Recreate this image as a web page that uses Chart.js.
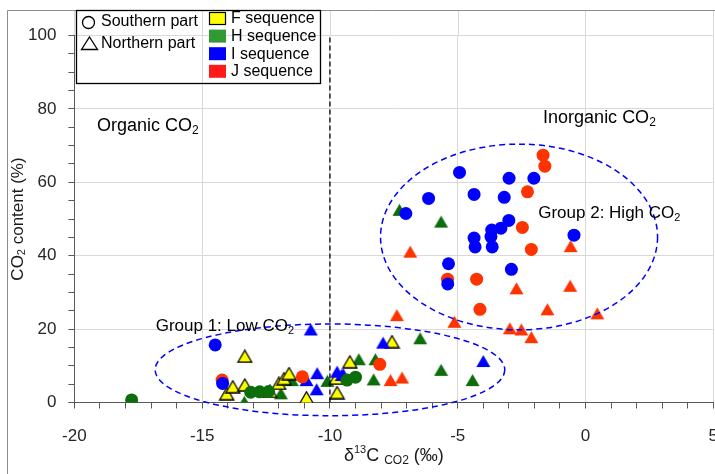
<!DOCTYPE html>
<html>
<head>
<meta charset="utf-8">
<script src="https://cdn.jsdelivr.net/npm/chart.js@4.4.1/dist/chart.umd.min.js"></script>
<style>
  html, body { margin: 0; padding: 0; background: #fff; overflow: hidden; }
  #wrap { width: 736px; height: 474px; }
</style>
</head>
<body>
<div id="wrap"><canvas id="chart" width="736" height="474"></canvas></div>
<script>
// delta13C of CO2 (x, permil) vs CO2 content (y, %)
// Southern part (circles)
const hSouthX = [-17.76, -13.1, -12.75, -12.4, -9.33, -9.0];
const hSouthY = [0.7, 2.8, 2.9, 3.0, 6.1, 6.9];
const iSouthX = [-14.49, -14.2, -7.03, -6.14, -4.93, -4.36, -3.18, -2.99, -2.02, -3.0, -3.31, -3.67, -3.7, -3.65, -4.36, -4.32, -5.36, -5.39, -2.9, -0.45];
const iSouthY = [15.7, 5.2, 51.5, 55.6, 62.7, 56.7, 55.9, 61.1, 61.1, 49.6, 47.5, 47.0, 45.2, 42.4, 44.8, 42.4, 37.8, 32.3, 36.3, 45.6];
const jSouthX = [-14.22, -11.08, -8.05, -4.13, -1.66, -1.59, -2.27, -2.47, -2.12, -5.40, -4.26];
const jSouthY = [6.1, 7.0, 10.4, 25.4, 67.4, 64.4, 57.4, 47.7, 41.7, 33.6, 33.6];
// Northern part (triangles)
const hNorthX = [-7.28, -5.65, -6.47, -5.65, -4.42, -8.87, -8.22, -8.29, -11.49, -11.92, -10.1, -13.35];
const hNorthY = [52.5, 49.3, 17.5, 8.9, 6.1, 11.8, 11.8, 6.3, 6.1, 2.5, 5.9, 0.2];
const iNorthX = [-10.75, -7.92, -4.0, -9.54, -10.5, -10.92, -10.52, -9.72, -9.48];
const iNorthY = [19.9, 16.3, 11.3, 7.5, 8.0, 6.1, 3.6, 8.4, 7.7];
const jNorthX = [-6.86, -0.58, -2.7, -0.6, -1.49, 0.46, -5.13, -2.96, -2.51, -2.12, -7.38, -7.63, -7.18];
const jNorthY = [41.1, 42.6, 31.1, 31.8, 25.4, 24.3, 22.0, 20.2, 19.9, 17.8, 23.8, 6.1, 6.8];
const fNorthX = [-13.33, -14.04, -13.8, -13.33, -12.35, -12.0, -11.8, -11.6, -10.92, -9.72, -9.22, -7.57, -9.76];
const fNorthY = [12.6, 2.4, 4.3, 4.8, 3.0, 5.2, 6.5, 7.9, 1.3, 2.7, 11.1, 16.6, 6.6];

// annotations (data units)
const dividerX = -10;
const group1Ellipse = [-10.0, 8.9, 6.84, 12.5];   // cx, cy, rx, ry
const group2Ellipse = [-2.6, 45.1, 5.42, 25.3];

const COLORS = { F: '#ffff00', H: '#0b6e0b', I: '#0000ff', J: '#ff3300' };
const FONT = "'Liberation Sans', Arial, sans-serif";
const FRAME_TOP = 10.5;

const pts = (xs, ys) => xs.map((x, i) => ({ x, y: ys[i] }));

// triangle marker centred on its bounding box, like the spreadsheet markers
function triangle(fill, stroke) {
  const c = document.createElement('canvas');
  c.width = 17;
  c.height = 14;
  const g = c.getContext('2d');
  g.beginPath();
  g.moveTo(8.5, 1);
  g.lineTo(15.5, 13);
  g.lineTo(1.5, 13);
  g.closePath();
  g.fillStyle = fill;
  g.fill();
  if (stroke) {
    g.lineWidth = 1.3;
    g.strokeStyle = stroke;
    g.stroke();
  }
  return c;
}

const circleSet = (label, xs, ys, color) => ({
  label, data: pts(xs, ys), pointStyle: 'circle', pointRadius: 6.5,
  backgroundColor: color, borderWidth: 0,
});
const triSet = (label, xs, ys, color, stroke) => ({
  label, data: pts(xs, ys), pointStyle: triangle(color, stroke), pointRadius: 7,
  backgroundColor: color, borderWidth: 0,
});

// draws a run of text pieces (for sub/superscripts)
function rich(ctx, parts, x, y, align) {
  let total = 0;
  parts.forEach((p) => {
    ctx.font = `${p.size}px ${FONT}`;
    total += ctx.measureText(p.t).width;
  });
  let cx = align === 'center' ? x - total / 2 : x;
  parts.forEach((p) => {
    ctx.font = `${p.size}px ${FONT}`;
    ctx.fillText(p.t, cx, y + (p.dy || 0));
    cx += ctx.measureText(p.t).width;
  });
}

const overlay = {
  id: 'overlay',
  beforeDraw(chart) {
    const { ctx, chartArea, scales: { x } } = chart;
    ctx.save();
    ctx.fillStyle = '#fff';
    ctx.fillRect(0, 0, chart.width, chart.height);
    // plot area continues above the 100 tick up to the frame
    ctx.strokeStyle = '#d9d9d9';
    ctx.lineWidth = 1;
    x.ticks.filter((t) => t.value % 5 === 0).forEach((t) => {
      const px = Math.round(x.getPixelForValue(t.value)) + 0.5;
      ctx.beginPath();
      ctx.moveTo(px, FRAME_TOP);
      ctx.lineTo(px, chartArea.top);
      ctx.stroke();
    });
    ctx.strokeStyle = '#8c8c8c';
    ctx.beginPath();
    ctx.moveTo(7.5, chart.height);
    ctx.lineTo(7.5, FRAME_TOP);
    ctx.lineTo(chart.width, FRAME_TOP);
    ctx.stroke();
    ctx.restore();
  },
  afterDatasetsDraw(chart) {
    const { ctx, scales: { x, y } } = chart;
    ctx.save();
    // organic / inorganic divider
    ctx.strokeStyle = '#000';
    ctx.lineWidth = 1.3;
    ctx.setLineDash([5, 3]);
    ctx.beginPath();
    ctx.moveTo(x.getPixelForValue(dividerX), y.getPixelForValue(0));
    ctx.lineTo(x.getPixelForValue(dividerX), y.getPixelForValue(100));
    ctx.stroke();
    // group ellipses
    ctx.strokeStyle = '#0000ff';
    ctx.lineWidth = 1.5;
    ctx.setLineDash([6, 4]);
    [group1Ellipse, group2Ellipse].forEach(([cx, cy, rx, ry]) => {
      const px = x.getPixelForValue(cx);
      const py = y.getPixelForValue(cy);
      const prx = x.getPixelForValue(cx + rx) - px;
      const pry = py - y.getPixelForValue(cy + ry);
      ctx.beginPath();
      ctx.ellipse(px, py, prx, pry, 0, 0, Math.PI * 2);
      ctx.stroke();
    });
    ctx.setLineDash([]);
    // labels
    ctx.fillStyle = '#000';
    ctx.textBaseline = 'middle';
    ctx.textAlign = 'left';
    rich(ctx, [{ t: 'Organic CO', size: 18 }, { t: '2', size: 12, dy: 5 }], x.getPixelForValue(-19.12), y.getPixelForValue(75.3));
    rich(ctx, [{ t: 'Inorganic CO', size: 18 }, { t: '2', size: 12, dy: 5 }], x.getPixelForValue(-1.66), y.getPixelForValue(77.5));
    rich(ctx, [{ t: 'Group 1: Low CO', size: 17 }, { t: '2', size: 11, dy: 5 }], x.getPixelForValue(-16.82), y.getPixelForValue(20.8));
    rich(ctx, [{ t: 'Group 2: High CO', size: 17 }, { t: '2', size: 11, dy: 5 }], x.getPixelForValue(-1.85), y.getPixelForValue(51.6));
    ctx.restore();
  },
  afterDraw(chart) {
    const { ctx, chartArea } = chart;
    ctx.save();
    ctx.fillStyle = '#1a1a1a';
    ctx.textBaseline = 'middle';
    // axis titles
    const midX = (chartArea.left + chartArea.right) / 2;
    rich(ctx, [
      { t: 'δ', size: 18 }, { t: '13', size: 11, dy: -6 }, { t: 'C ', size: 18 },
      { t: 'CO2', size: 12, dy: 5 }, { t: ' (‰)', size: 18 },
    ], midX, 456, 'center');
    ctx.translate(18, (chartArea.top + chartArea.bottom) / 2);
    ctx.rotate(-Math.PI / 2);
    rich(ctx, [
      { t: 'CO', size: 17 }, { t: '2', size: 11, dy: 4 }, { t: ' content (%)', size: 17 },
    ], 0, 0, 'center');
    ctx.restore();

    // legend
    ctx.save();
    ctx.strokeStyle = '#000';
    ctx.lineWidth = 1.3;
    ctx.strokeRect(76.5, 10.5, 244, 73);
    ctx.beginPath();
    ctx.arc(88.5, 22.5, 6, 0, Math.PI * 2);
    ctx.stroke();
    ctx.beginPath();
    ctx.moveTo(89.5, 37);
    ctx.lineTo(97.5, 49.5);
    ctx.lineTo(81.5, 49.5);
    ctx.closePath();
    ctx.stroke();
    ctx.fillStyle = '#000';
    ctx.textBaseline = 'middle';
    ctx.font = `16px ${FONT}`;
    ctx.fillText('Southern part', 101, 22);
    ctx.fillText('Northern part', 101, 44);
    const seq = [['F', COLORS.F], ['H', '#339933'], ['I', COLORS.I], ['J', '#ff1a1a']];
    seq.forEach(([name, color], i) => {
      const top = 12 + i * 17.6;
      ctx.fillStyle = color;
      ctx.fillRect(209, top, 17, 13);
      if (name === 'F') {
        ctx.lineWidth = 1.2;
        ctx.strokeRect(209.5, top + 0.5, 16, 12);
      }
      ctx.fillStyle = '#000';
      ctx.fillText(`${name} sequence`, 231, top + 7);
    });
    ctx.restore();
  },
};

const majorGrid = (step) => (c) => (c.tick && c.tick.value % step === 0 ? '#d9d9d9' : 'rgba(0,0,0,0)');

// eslint-disable-next-line no-undef
new Chart(document.getElementById('chart'), {
  type: 'scatter',
  data: {
    datasets: [
      circleSet('H south', hSouthX, hSouthY, COLORS.H),
      circleSet('I south', iSouthX, iSouthY, COLORS.I),
      circleSet('J south', jSouthX, jSouthY, COLORS.J),
      triSet('J north', jNorthX, jNorthY, COLORS.J),
      triSet('I north', iNorthX, iNorthY, COLORS.I),
      triSet('F north', fNorthX, fNorthY, COLORS.F, '#000'),
      triSet('H north', hNorthX, hNorthY, COLORS.H),
    ],
  },
  plugins: [overlay],
  options: {
    responsive: false,
    animation: false,
    layout: { padding: { top: 35.5, right: 19.8, bottom: 0, left: 0 } },
    plugins: { legend: { display: false }, tooltip: { enabled: false } },
    scales: {
      x: {
        type: 'linear',
        min: -20,
        max: 5,
        afterFit: (s) => { s.height = 71.5; },
        border: { color: '#595959', width: 1 },
        grid: { color: majorGrid(5), tickColor: '#595959', tickLength: 6 },
        ticks: {
          stepSize: 1,
          autoSkip: false,
          maxRotation: 0,
          padding: 18,
          color: '#262626',
          font: { family: FONT, size: 17 },
          callback: (v) => (v % 5 === 0 ? String(v) : ''),
        },
      },
      y: {
        min: 0,
        max: 100,
        afterFit: (s) => { s.width = 74.4; },
        border: { color: '#595959', width: 1 },
        grid: { color: majorGrid(20), tickColor: '#595959', tickLength: 6 },
        ticks: {
          stepSize: 5,
          autoSkip: false,
          padding: 12,
          color: '#262626',
          font: { family: FONT, size: 17 },
          callback: (v) => (v % 20 === 0 ? String(v) : ''),
        },
      },
    },
  },
});
</script>
</body>
</html>
